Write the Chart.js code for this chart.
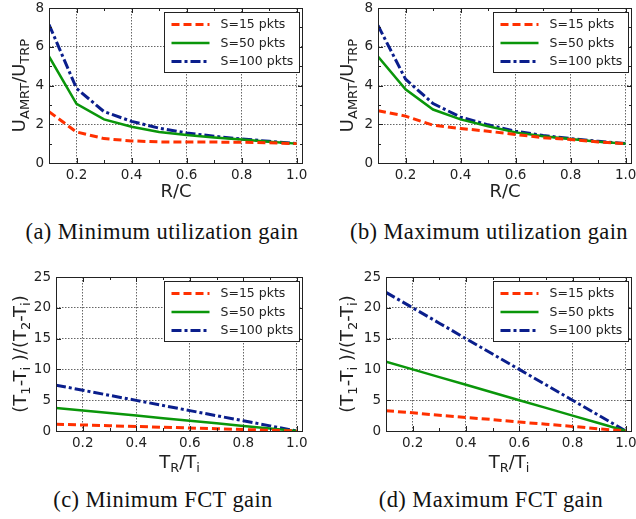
<!DOCTYPE html>
<html>
<head>
<meta charset="utf-8">
<script src="https://cdn.jsdelivr.net/npm/chart.js@4.4.0/dist/chart.umd.min.js"></script>
<style>
  body { margin: 0; background: #fff; }
  #page { position: relative; width: 636px; height: 519px; overflow: hidden; }
  #page canvas { position: absolute; }
  .cap { position: absolute; font-family: "Liberation Serif", serif; font-size: 22.5px; letter-spacing: 0.4px; line-height: 26px; color: #111; white-space: nowrap; transform: translateX(-50%); }
</style>
</head>
<body>
<div id="page">
  <canvas id="chartA" width="318" height="200" style="left:0;top:0"></canvas>
  <canvas id="chartB" width="318" height="200" style="left:318px;top:0"></canvas>
  <canvas id="chartC" width="318" height="215" style="left:0;top:260px"></canvas>
  <canvas id="chartD" width="318" height="215" style="left:318px;top:260px"></canvas>
  <div class="cap" style="left:162px;top:219px">(a) Minimum utilization gain</div>
  <div class="cap" style="left:489px;top:219px">(b) Maximum utilization gain</div>
  <div class="cap" style="left:163px;top:487px">(c) Minimum FCT gain</div>
  <div class="cap" style="left:491px;top:487px">(d) Maximum FCT gain</div>
</div>
<script>
// x positions (R/C or T_R/T_i)
const ratio = [0.1, 0.2, 0.3, 0.4, 0.5, 0.6, 0.7, 0.8, 0.9, 1.0];
const xMajor = [0.2, 0.4, 0.6, 0.8, 1.0];
const xMinor = [0.3, 0.5, 0.7, 0.9];
const utilTicks = [0, 2, 4, 6, 8];
const utilMinor = [1, 3, 5, 7];
const fctTicks = [0, 5, 10, 15, 20, 25];
const seriesNames = ['S=15 pkts', 'S=50 pkts', 'S=100 pkts'];

// (a) minimum utilization gain
const minUtil15 = [2.65, 1.6, 1.26, 1.14, 1.09, 1.08, 1.08, 1.07, 1.04, 1.0];
const minUtil50 = [5.5, 3.05, 2.25, 1.87, 1.6, 1.44, 1.31, 1.21, 1.1, 1.0];
const minUtil100 = [7.15, 3.85, 2.65, 2.15, 1.8, 1.55, 1.38, 1.24, 1.12, 1.0];
// (b) maximum utilization gain
const maxUtil15 = [2.7, 2.42, 1.95, 1.78, 1.64, 1.47, 1.31, 1.21, 1.09, 1.0];
const maxUtil50 = [5.5, 3.8, 2.76, 2.25, 1.9, 1.58, 1.38, 1.24, 1.1, 1.0];
const maxUtil100 = [7.1, 4.33, 3.07, 2.37, 1.97, 1.64, 1.42, 1.26, 1.12, 1.0];
// (c) minimum FCT gain
const minFct15 = [1.1, 0.98, 0.85, 0.73, 0.61, 0.49, 0.37, 0.24, 0.12, 0];
const minFct50 = [3.75, 3.33, 2.92, 2.5, 2.08, 1.67, 1.25, 0.83, 0.42, 0];
const minFct100 = [7.45, 6.62, 5.79, 4.97, 4.14, 3.31, 2.48, 1.66, 0.83, 0];
// (d) maximum FCT gain
const maxFct15 = [3.3, 2.95, 2.55, 2.2, 1.85, 1.45, 1.1, 0.75, 0.35, 0];
const maxFct50 = [11.25, 10, 8.75, 7.5, 6.25, 5, 3.75, 2.5, 1.25, 0];
const maxFct100 = [22.5, 20, 17.5, 15, 12.5, 10, 7.5, 5, 2.5, 0];

const COLORS = ['#ff3000', '#0a960a', '#0a1e8c'];
const DASHES = [[8, 4], [], [10, 3, 3, 3]];
const WIDTHS = [3, 2.5, 3];
const SANS = '"DejaVu Sans", sans-serif';

// axis titles as [text, isSubscript] pieces
const utilXTitle = [['R/C', 0]];
const utilYTitle = [['U', 0], ['AMRT', 1], ['/U', 0], ['TRP', 1]];
const fctXTitle = [['T', 0], ['R', 1], ['/T', 0], ['i', 1]];
const fctYTitle = [['(T', 0], ['1', 1], ['-T', 0], ['i', 1], [' )/(T', 0], ['2', 1], ['-T', 0], ['i', 1], [')', 0]];

function drawPieces(ctx, pieces, x0, y0) {
  let w = 0;
  pieces.forEach(p => {
    ctx.font = (p[1] ? '13px ' : '18px ') + SANS;
    w += ctx.measureText(p[0]).width;
  });
  let x = x0 - w / 2;
  pieces.forEach(p => {
    ctx.font = (p[1] ? '13px ' : '18px ') + SANS;
    ctx.fillText(p[0], x, y0 + (p[1] ? 4 : 0));
    x += ctx.measureText(p[0]).width;
  });
}

const framePlugin = {
  id: 'frame',
  afterDraw(chart, args, opts) {
    const ctx = chart.ctx;
    const a = chart.chartArea;
    const xs = chart.scales.x, ys = chart.scales.y;
    ctx.save();
    ctx.strokeStyle = '#222';
    ctx.lineWidth = 1;
    ctx.setLineDash([]);
    ctx.strokeRect(Math.round(a.left) + 0.5, Math.round(a.top) + 0.5,
      Math.round(a.right - a.left) - 1, Math.round(a.bottom - a.top));

    // inward tick marks on all four sides
    ctx.beginPath();
    const xTick = (v, len) => {
      const px = Math.round(xs.getPixelForValue(v)) + 0.5;
      ctx.moveTo(px, a.bottom); ctx.lineTo(px, a.bottom - len);
      ctx.moveTo(px, a.top); ctx.lineTo(px, a.top + len);
    };
    const yTick = (v, len) => {
      const py = Math.round(ys.getPixelForValue(v)) + 0.5;
      ctx.moveTo(a.left, py); ctx.lineTo(a.left + len, py);
      ctx.moveTo(a.right, py); ctx.lineTo(a.right - len, py);
    };
    xMajor.forEach(v => xTick(v, 5));
    xMinor.forEach(v => xTick(v, 3));
    opts.yMajor.forEach(v => yTick(v, 5));
    (opts.yMinor || []).forEach(v => yTick(v, 3));
    ctx.stroke();

    // legend box
    const bw = 135, bh = 60;
    const bx = Math.round(a.right - 4 - bw) + 0.5;
    const by = Math.round(a.top + 4) + 0.5;
    ctx.fillStyle = '#fff';
    ctx.fillRect(bx, by, bw, bh);
    ctx.strokeRect(bx, by, bw, bh);
    chart.data.datasets.forEach((ds, i) => {
      const ly = by + 12 + i * 18.5;
      ctx.beginPath();
      ctx.strokeStyle = ds.borderColor;
      ctx.lineWidth = ds.borderWidth;
      ctx.setLineDash(ds.borderDash);
      ctx.moveTo(bx + 7, ly);
      ctx.lineTo(bx + 45, ly);
      ctx.stroke();
      ctx.setLineDash([]);
      ctx.fillStyle = '#222';
      ctx.font = '12.5px ' + SANS;
      ctx.textBaseline = 'middle';
      ctx.fillText(ds.label, bx + 56, ly + 0.5);
    });

    // axis titles
    ctx.fillStyle = '#222';
    ctx.textBaseline = 'alphabetic';
    drawPieces(ctx, opts.xTitle, (a.left + a.right) / 2, opts.xTitleY);
    ctx.translate(opts.yTitleX, (a.top + a.bottom) / 2);
    ctx.rotate(-Math.PI / 2);
    drawPieces(ctx, opts.yTitle, 0, 0);
    ctx.restore();
  }
};

function makeChart(id, series, yMax, yTicks, yMinor, xTitle, yTitle, box) {
  const ctx = document.getElementById(id).getContext('2d');
  return new Chart(ctx, {
    type: 'line',
    data: {
      datasets: series.map((vals, i) => ({
        label: seriesNames[i],
        data: ratio.map((x, j) => ({ x: x, y: vals[j] })),
        borderColor: COLORS[i],
        borderWidth: WIDTHS[i],
        borderDash: DASHES[i],
        pointRadius: 0,
        tension: 0,
        fill: false,
        clip: 0
      }))
    },
    options: {
      responsive: false,
      animation: false,
      layout: { padding: { left: 0, right: box.right, top: box.top, bottom: 0 } },
      plugins: {
        legend: { display: false },
        tooltip: { enabled: false },
        frame: {
          yMajor: yTicks, yMinor: yMinor,
          xTitle: xTitle, yTitle: yTitle,
          xTitleY: box.xTitleY, yTitleX: box.yTitleX
        }
      },
      scales: {
        x: {
          type: 'linear',
          min: 0.1,
          max: 1.023,
          afterBuildTicks: s => { s.ticks = xMajor.map(v => ({ value: v })); },
          afterFit: s => { s.height = box.xHeight; s.paddingLeft = 0; s.paddingRight = 0; },
          ticks: {
            callback: v => v.toFixed(1),
            color: '#222',
            font: { family: SANS, size: 13.5 },
            padding: 4,
            maxRotation: 0,
            autoSkip: false
          },
          grid: { color: 'rgba(0,0,0,0.6)', lineWidth: 1, drawTicks: false },
          border: { display: false, dash: [1.5, 1.5] }
        },
        y: {
          min: 0,
          max: yMax,
          afterBuildTicks: s => { s.ticks = yTicks.map(v => ({ value: v })); },
          afterFit: s => { s.width = box.yWidth; s.paddingTop = 0; s.paddingBottom = 0; },
          ticks: {
            color: '#222',
            font: { family: SANS, size: 13.5 },
            padding: 5
          },
          grid: { color: 'rgba(0,0,0,0.6)', lineWidth: 1, drawTicks: false },
          border: { display: false, dash: [1.5, 1.5] }
        }
      }
    },
    plugins: [framePlugin]
  });
}

makeChart('chartA', [minUtil15, minUtil50, minUtil100], 8, utilTicks, utilMinor, utilXTitle, utilYTitle,
  { yWidth: 49, right: 15, top: 8, xHeight: 37, xTitleY: 197, yTitleX: 25 });
makeChart('chartB', [maxUtil15, maxUtil50, maxUtil100], 8, utilTicks, utilMinor, utilXTitle, utilYTitle,
  { yWidth: 60, right: 4, top: 8, xHeight: 37, xTitleY: 197, yTitleX: 35 });
makeChart('chartC', [minFct15, minFct50, minFct100], 25, fctTicks, [], fctXTitle, fctYTitle,
  { yWidth: 56, right: 15, top: 17, xHeight: 44, xTitleY: 208, yTitleX: 26 });
makeChart('chartD', [maxFct15, maxFct50, maxFct100], 25, fctTicks, [], fctXTitle, fctYTitle,
  { yWidth: 68, right: 4, top: 17, xHeight: 44, xTitleY: 208, yTitleX: 35 });
</script>
</body>
</html>
